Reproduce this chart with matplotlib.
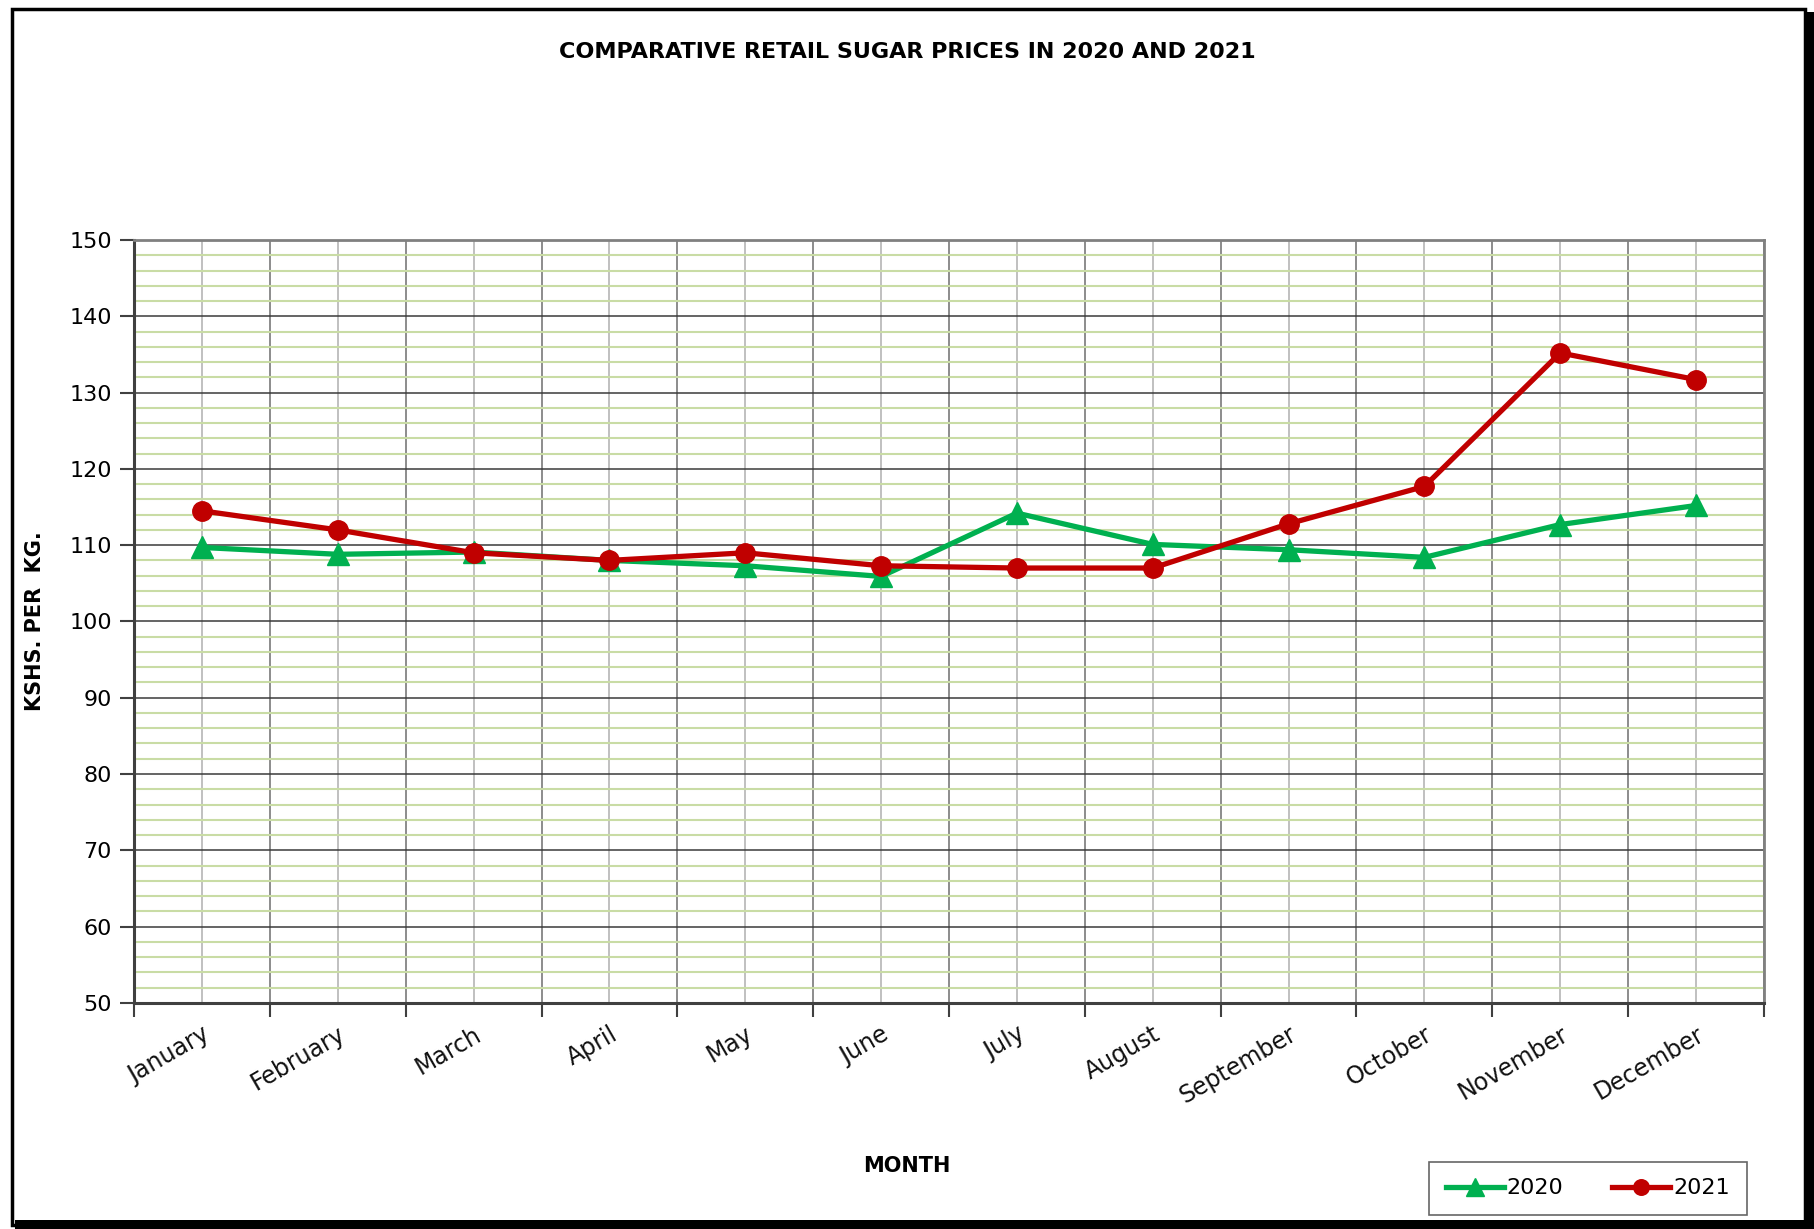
import matplotlib
matplotlib.use("Agg")
import matplotlib.pyplot as plt
from matplotlib.patches import Rectangle
from matplotlib.ticker import MultipleLocator, FixedLocator
import numpy as np

months = ["January", "February", "March", "April", "May", "June",
          "July", "August", "September", "October", "November", "December"]
prices_2020 = [109.7, 108.8, 109.1, 108.0, 107.3, 105.9,
               114.2, 110.1, 109.4, 108.4, 112.7, 115.2]
prices_2021 = [114.5, 112.0, 109.0, 108.0, 109.0, 107.3,
               107.0, 107.0, 112.8, 117.7, 135.2, 131.7]

green = "#00b050"
red = "#c00000"

plt.rcParams["font.family"] = "DejaVu Sans"

fig = plt.figure(figsize=(18.14, 12.29), dpi=100)
ax = fig.add_axes([0.0739, 0.184, 0.8985, 0.6207])

x = np.arange(len(months))

# grid: minor green every 2, major dark every 10
ax.set_ylim(50, 150)
ax.set_xlim(-0.5, len(months) - 0.5)
ax.yaxis.set_major_locator(MultipleLocator(10))
ax.yaxis.set_minor_locator(MultipleLocator(2))
ax.grid(which="minor", axis="y", color="#c9dca5", linewidth=1.5, zorder=0)
ax.grid(which="major", axis="y", color="#3a3a3a", linewidth=1.1, zorder=0.5)

# vertical lines: category boundaries darker, centres lighter
for b in np.arange(len(months) + 1) - 0.5:
    ax.axvline(b, color="#8c8c8c", linewidth=1.4, zorder=0.6)
for c in x:
    ax.axvline(c, color="#c0c0c0", linewidth=1.4, zorder=0.6)

ax.plot(x, prices_2020, color=green, linewidth=3.8, marker="^",
        markersize=16, label="2020", zorder=3)
ax.plot(x, prices_2021, color=red, linewidth=3.8, marker="o",
        markersize=14, label="2021", zorder=4)

ax.xaxis.set_major_locator(FixedLocator(np.arange(len(months) + 1) - 0.5))
ax.set_xticklabels([])
ax.set_xticks(x, minor=True)
ax.set_xticklabels(months, minor=True, rotation=30, ha="right",
                   rotation_mode="anchor", fontsize=17, color="#111111")
ax.tick_params(axis="x", which="minor", length=0, pad=14)
ax.tick_params(axis="x", which="major", length=10, width=1.5, color="#404040")
ax.tick_params(axis="y", which="major", length=10, width=1.5, color="#404040",
               labelsize=16, pad=6)
ax.tick_params(axis="y", which="minor", length=0)

for side in ["left", "bottom"]:
    ax.spines[side].set_color("#404040")
    ax.spines[side].set_linewidth(2.2)
for side in ["right", "top"]:
    ax.spines[side].set_color("#808080")
    ax.spines[side].set_linewidth(2.0)

fig.text(0.5, 0.958, "COMPARATIVE RETAIL SUGAR PRICES IN 2020 AND 2021",
         ha="center", va="center", fontsize=16, fontweight="bold")
fig.text(0.5, 0.051, "MONTH", ha="center", va="center",
         fontsize=15, fontweight="bold")
fig.text(0.0195, 0.495, "KSHS. PER  KG.", ha="center", va="center",
         rotation=90, fontsize=15, fontweight="bold")

leg = fig.legend(loc="lower right", bbox_to_anchor=(0.963, 0.0114), ncol=2,
                 fontsize=16, frameon=True, fancybox=False, edgecolor="#404040",
                 handlelength=2.6, columnspacing=2.2, borderpad=0.75,
                 handletextpad=0.15, markerscale=0.8, borderaxespad=0)
leg.get_frame().set_linewidth(1.2)

# outer chart frame with heavier right/bottom edge
fig.patches.append(Rectangle((0.0065, 0.0035), 0.9885, 0.989,
                             transform=fig.transFigure, fill=False,
                             edgecolor="black", linewidth=2.5))
fig.patches.append(Rectangle((0.9955, 0.0), 0.0045, 0.99,
                             transform=fig.transFigure, facecolor="black",
                             edgecolor="none"))
fig.patches.append(Rectangle((0.008, 0.0), 0.992, 0.0075,
                             transform=fig.transFigure, facecolor="black",
                             edgecolor="none"))

fig.savefig("out.png", dpi=100)
